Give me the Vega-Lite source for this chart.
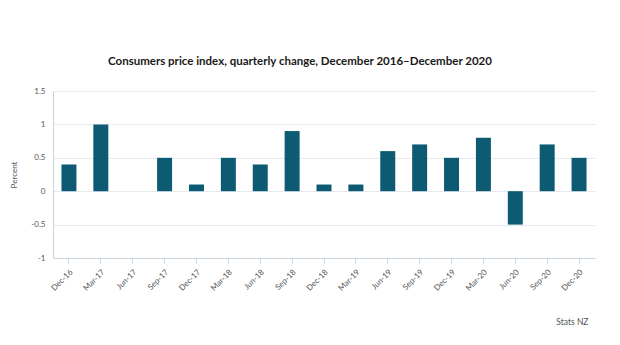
{
  "$schema": "https://vega.github.io/schema/vega-lite/v6.json",
  "autosize": {"type": "none"},
  "width": 542,
  "height": 167,
  "padding": {"left": 53, "top": 91, "right": 25, "bottom": 87},
  "background": "white",
  "config": {
    "font": "Lato",
    "view": {"stroke": null}
  },
  "title": {
    "text": "Consumers price index, quarterly change, December 2016–December 2020",
    "fontSize": 11.5,
    "fontWeight": "bold",
    "color": "#1a1a1a",
    "anchor": "middle",
    "dx": -24,
    "offset": 20
  },
  "data": {
    "values": [
      {"quarter": "Dec-16", "change": 0.4},
      {"quarter": "Mar-17", "change": 1.0},
      {"quarter": "Jun-17", "change": 0.0},
      {"quarter": "Sep-17", "change": 0.5},
      {"quarter": "Dec-17", "change": 0.1},
      {"quarter": "Mar-18", "change": 0.5},
      {"quarter": "Jun-18", "change": 0.4},
      {"quarter": "Sep-18", "change": 0.9},
      {"quarter": "Dec-18", "change": 0.1},
      {"quarter": "Mar-19", "change": 0.1},
      {"quarter": "Jun-19", "change": 0.6},
      {"quarter": "Sep-19", "change": 0.7},
      {"quarter": "Dec-19", "change": 0.5},
      {"quarter": "Mar-20", "change": 0.8},
      {"quarter": "Jun-20", "change": -0.5},
      {"quarter": "Sep-20", "change": 0.7},
      {"quarter": "Dec-20", "change": 0.5}
    ]
  },
  "mark": {"type": "bar", "color": "#0d5a73"},
  "encoding": {
    "x": {
      "field": "quarter",
      "type": "ordinal",
      "sort": null,
      "scale": {"paddingInner": 0.53, "paddingOuter": 0.265},
      "axis": {
        "title": "Stats NZ",
        "titleAnchor": "end",
        "titleAlign": "right",
        "titleX": 535,
        "titleFontSize": 8.5,
        "titleFontWeight": "normal",
        "titleColor": "#555555",
        "titlePadding": 25,
        "labelAngle": -45,
        "labelFontSize": 8,
        "labelColor": "#555555",
        "labelPadding": 5,
        "tickColor": "#c8d3de",
        "tickSize": 5,
        "domainColor": "#c8d3de",
        "grid": false
      }
    },
    "y": {
      "field": "change",
      "type": "quantitative",
      "scale": {"domain": [-1, 1.5], "nice": false},
      "axis": {
        "title": "Percent",
        "titleFontSize": 8,
        "titleFontWeight": "normal",
        "titleColor": "#555555",
        "titlePadding": 12,
        "values": [-1, -0.5, 0, 0.5, 1, 1.5],
        "labelExpr": "'' + datum.value",
        "labelFontSize": 8,
        "labelColor": "#555555",
        "labelPadding": 8,
        "ticks": false,
        "domainColor": "#c8d3de",
        "gridColor": "#e6e9f0"
      }
    }
  }
}
